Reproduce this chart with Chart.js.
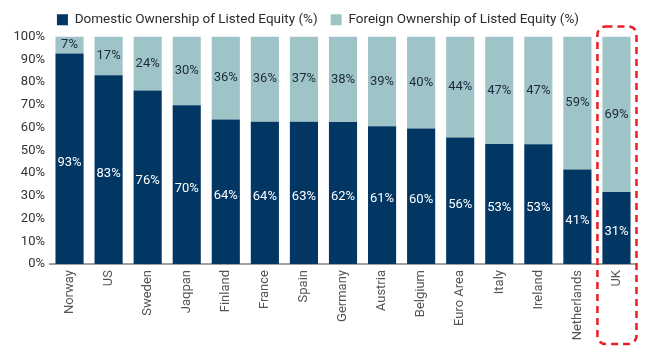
<!DOCTYPE html>
<html><head><meta charset="utf-8">
<script src="https://cdn.jsdelivr.net/npm/chart.js@4/dist/chart.umd.min.js"></script>
<style>html,body{margin:0;padding:0;background:#fff}#wrap{width:650px;height:350px}</style>
</head><body><div id="wrap"><canvas id="c" width="650" height="350"></canvas></div>
<script>
const categories = ['Norway','US','Sweden','Jaqpan','Finland','France','Spain','Germany','Austria','Belgium','Euro Area','Italy','Ireland','Netherlands','UK'];
const domestic = [92.5, 83, 76.3, 69.8, 63.5, 62.5, 62.5, 62.4, 60.6, 59.6, 55.6, 52.7, 52.6, 41.5, 31.6];
const foreign  = [7.5, 17, 23.7, 30.2, 36.5, 37.5, 37.5, 37.6, 39.4, 40.4, 44.4, 47.3, 47.4, 58.5, 68.4];
const domesticLabels = [93, 83, 76, 70, 64, 64, 63, 62, 61, 60, 56, 53, 53, 41, 31];
const foreignLabels  = [7, 17, 24, 30, 36, 36, 37, 38, 39, 40, 44, 47, 47, 59, 69];
const yTicks = [0,10,20,30,40,50,60,70,80,90,100];
const highlight = 'UK';

const FONT = 'Roboto, "Liberation Sans", sans-serif';
const NAVY = '#023764';
const TEAL = '#9fc4c7';

const labelPlugin = {
  id: 'segLabels',
  afterDatasetsDraw(chart) {
    const ctx = chart.ctx;
    ctx.save();
    ctx.font = '13px ' + FONT;
    ctx.textAlign = 'center';
    ctx.textBaseline = 'middle';
    chart.data.datasets.forEach((ds, di) => {
      const meta = chart.getDatasetMeta(di);
      const labels = di === 0 ? domesticLabels : foreignLabels;
      ctx.fillStyle = di === 0 ? '#ffffff' : '#1c2a3a';
      meta.data.forEach((el, i) => {
        const y = (el.y + el.base) / 2 + (di === 0 ? 4 : 0);
        ctx.fillText(labels[i] + '%', el.x, y);
      });
    });
    ctx.restore();
  }
};

const boxPlugin = {
  id: 'hlBox',
  afterDraw(chart) {
    const xs = chart.scales.x, ys = chart.scales.y;
    const idx = categories.indexOf(highlight);
    const cx = xs.getPixelForValue(idx);
    const half = xs.width / categories.length / 2;
    const left = cx - half + 0.5, right = cx + half + 0.5;
    const top = ys.getPixelForValue(100) - 10, bottom = chart.height - 6;
    const ctx = chart.ctx;
    ctx.save();
    ctx.strokeStyle = '#ee1c24';
    ctx.lineWidth = 2.5;
    ctx.setLineDash([7, 5]);
    ctx.beginPath();
    ctx.roundRect(left, top, right - left, bottom - top, 8);
    ctx.stroke();
    ctx.restore();
  }
};

new Chart(document.getElementById('c'), {
  type: 'bar',
  data: {
    labels: categories,
    datasets: [
      { label: 'Domestic Ownership of Listed Equity (%)', data: domestic, backgroundColor: NAVY, borderWidth: 0 },
      { label: 'Foreign Ownership of Listed Equity (%)', data: foreign, backgroundColor: TEAL, borderWidth: 0 }
    ]
  },
  options: {
    responsive: false,
    animation: false,
    devicePixelRatio: 1,
    layout: { padding: { left: 0, right: 14, top: 0, bottom: 0 } },
    datasets: { bar: { barPercentage: 0.72, categoryPercentage: 1 } },
    plugins: {
      legend: {
        position: 'top',
        labels: { font: { family: FONT, size: 13.5 }, color: '#2b2b2b', boxWidth: 11, boxHeight: 11, padding: 13 }
      },
      tooltip: { enabled: false }
    },
    scales: {
      x: {
        stacked: true,
        grid: { display: false, drawTicks: false },
        border: { display: true, color: '#a0a0a0', width: 2 },
        ticks: { maxRotation: 90, minRotation: 90, font: { family: FONT, size: 13 }, color: '#555555', padding: 6 },
        afterFit(s) { s.height = 86; }
      },
      y: {
        stacked: true, min: 0, max: 100,
        afterBuildTicks(s) { s.ticks = yTicks.map(v => ({ value: v })); },
        grid: { display: false, drawTicks: false },
        border: { display: false },
        ticks: { callback: v => v + '%', font: { family: FONT, size: 13 }, color: '#333333', padding: 5 },
        afterFit(s) { s.width = 50; }
      }
    }
  },
  plugins: [labelPlugin, boxPlugin]
});
</script>
</body></html>
